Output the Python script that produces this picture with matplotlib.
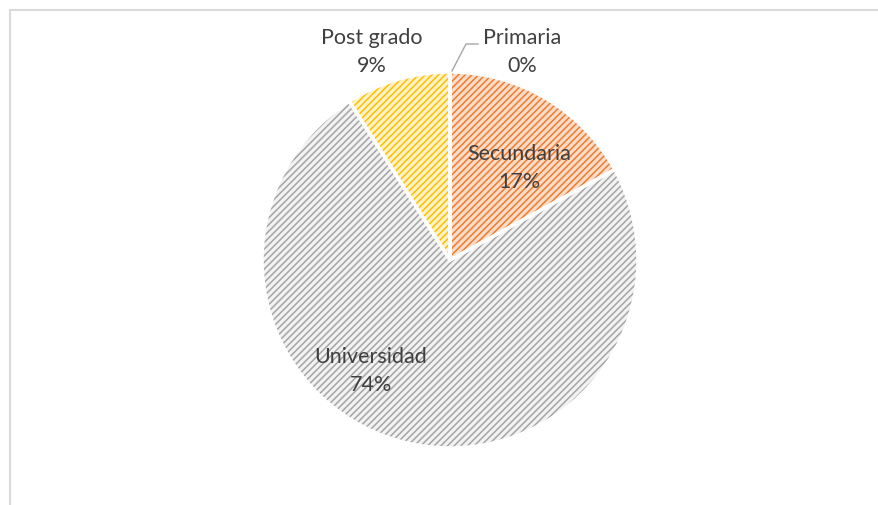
import matplotlib.pyplot as plt
from matplotlib.patches import Wedge

# data
categories = ['Primaria', 'Secundaria', 'Universidad', 'Post grado']
shares = [0, 17, 74, 9]
hatch_colors = ['#4472C4', '#ED7D31', '#A5A5A5', '#FFC000']
face_colors = ['#DAE3F3', '#FBDCC8', '#F2F2F2', '#FFF2C8']

plt.rcParams['font.family'] = ['Lato', 'DejaVu Sans']
plt.rcParams['hatch.linewidth'] = 1.1

W, H = 879, 505
fig = plt.figure(figsize=(W / 100, H / 100), dpi=100)
ax = fig.add_axes([0, 0, 1, 1])

# chart frame (only top and left visible)
ax.plot([10, W], [H - 10, H - 10], color='#D9D9D9', lw=1.5)
ax.plot([10, 10], [0, H - 10], color='#D9D9D9', lw=1.5)

center = (450, H - 260)
radius = 188

wedges, _ = ax.pie(shares, colors=face_colors, startangle=90, counterclock=False,
                   center=center, radius=radius, frame=True,
                   wedgeprops=dict(linewidth=0))
for w, hc in zip(wedges, hatch_colors):
    w.set_hatch('/////')
    w.set_edgecolor(hc)
    w.set_linewidth(0)
# white separators on top
for w in wedges:
    ax.add_patch(Wedge(w.center, w.r, w.theta1, w.theta2, facecolor='none',
                       edgecolor='white', linewidth=2.5))
ax.set_xlim(0, W)
ax.set_ylim(0, H)
ax.set_aspect('equal')
ax.axis('off')

txt = dict(ha='center', va='center', fontsize=15.5, color='#404040', linespacing=1.5)
ax.text(522, H - 52, f'{categories[0]}\n{shares[0]}%', **txt)
ax.text(519, H - 168, f'{categories[1]}\n{shares[1]}%', **txt)
ax.text(371, H - 371, f'{categories[2]}\n{shares[2]}%', **txt)
ax.text(372, H - 52, f'{categories[3]}\n{shares[3]}%', **txt)
# leader line for Primaria
ax.plot([452, 466, 478], [H - 71, H - 44, H - 44], color='#A6A6A6', lw=1)

fig.savefig('out.png', dpi=100)
